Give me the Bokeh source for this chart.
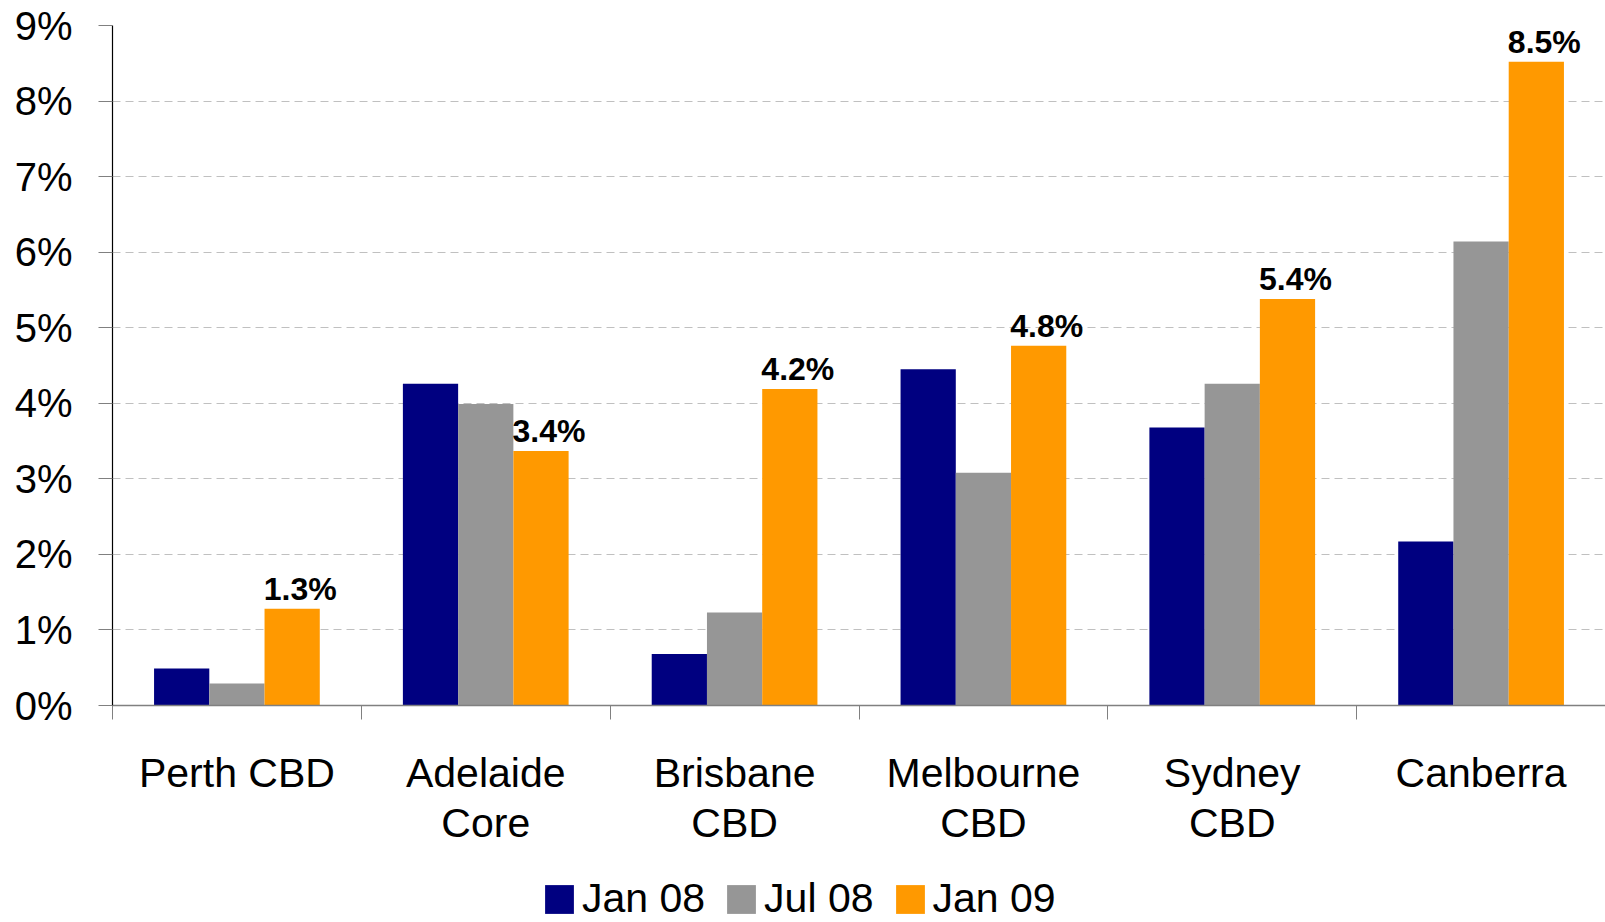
import numpy as np
from bokeh.plotting import figure
from bokeh.layouts import column
from bokeh.models import (Range1d, FixedTicker, PrintfTickFormatter, Legend,
                          LegendItem, ColumnDataSource)
from bokeh.core.properties import value
from bokeh.embed import file_html
from bokeh.resources import INLINE

# ---- data ----
cities = ["Perth CBD", "Adelaide\nCore", "Brisbane\nCBD", "Melbourne\nCBD", "Sydney\nCBD", "Canberra"]
series_names = ["Jan 08", "Jul 08", "Jan 09"]
jan08 = [0.49, 4.26, 0.68, 4.45, 3.68, 2.17]
jul08 = [0.29, 3.99, 1.23, 3.08, 4.26, 6.14]
jan09 = [1.28, 3.37, 4.19, 4.76, 5.38, 8.52]
y_ticks = [0, 1, 2, 3, 4, 5, 6, 7, 8, 9]
colors = ["#000080", "#969696", "#FF9900"]

FONT = "Liberation Sans"
n = len(cities)
centers = np.arange(n) + 0.5
bar_w = 0.222
offsets = [-bar_w, 0.0, bar_w]

p = figure(width=1605, height=859, output_backend="svg", toolbar_location=None,
           x_range=Range1d(0, n), y_range=Range1d(0, 9),
           min_border_left=112, min_border_right=0, min_border_top=25,
           min_border_bottom=154)
p.outline_line_color = None
p.background_fill_color = "white"
p.border_fill_color = "white"

sources = []
renderers = []
for vals, col, off in zip([jan08, jul08, jan09], colors, offsets):
    src = ColumnDataSource(dict(x=centers + off, top=vals))
    sources.append(src)
    r = p.vbar(x="x", top="top", bottom=0, width=bar_w, source=src,
               fill_color=col, line_color=None)
    renderers.append(r)

# data labels on Jan 09
lab_src = ColumnDataSource(dict(x=centers + offsets[2], y=jan09,
                                t=[f"{v:.1f}%" for v in jan09]))
p.text(x="x", y="y", text="t", source=lab_src, text_font=value(FONT),
       text_font_style="bold", text_font_size="32px", text_align="center",
       text_baseline="alphabetic", x_offset=8, y_offset=-20, text_color="black")

# x axis
xa = p.xaxis[0]
xa.ticker = FixedTicker(ticks=[float(c) for c in centers],
                        minor_ticks=[float(i) for i in range(n + 1)])
xa.major_label_overrides = {float(c): name for c, name in zip(centers, cities)}
xa.major_tick_out = 0
xa.major_tick_in = 0
xa.minor_tick_out = 14
xa.minor_tick_in = 0
xa.minor_tick_line_color = "#808080"
xa.axis_line_color = "#808080"
xa.axis_line_width = 1.5
xa.major_label_text_font = FONT
xa.major_label_text_font_size = "41px"
xa.major_label_text_color = "black"
xa.major_label_text_line_height = 1.1
xa.major_label_standoff = 30

# y axis
ya = p.yaxis[0]
ya.ticker = FixedTicker(ticks=y_ticks)
ya.formatter = PrintfTickFormatter(format="%d%%")
ya.major_tick_out = 14
ya.major_tick_in = 0
ya.minor_tick_out = 0
ya.minor_tick_in = 0
ya.major_tick_line_color = "#808080"
ya.axis_line_color = "black"
ya.axis_line_width = 1.2
ya.major_label_text_font = FONT
ya.major_label_text_font_size = "40px"
ya.major_label_text_color = "black"
ya.major_label_standoff = 26

# grid
p.xgrid.visible = False
p.ygrid.ticker = FixedTicker(ticks=y_ticks)
p.ygrid.grid_line_color = "#c0c0c0"
p.ygrid.grid_line_dash = "8 5"
p.ygrid.grid_line_width = 1

# ---- legend strip (same series, bars kept far outside its view) ----
lf = figure(width=1605, height=63, output_backend="svg", toolbar_location=None,
            x_range=Range1d(-100, -99), y_range=Range1d(-100, -99),
            x_axis_location=None, y_axis_location=None, min_border=0)
lf.outline_line_color = None
lf.grid.visible = False
leg_renderers = []
for src, col in zip(sources, colors):
    leg_renderers.append(lf.vbar(x="x", top="top", bottom=0, width=bar_w, source=src,
                                 fill_color=col, line_color=None))

legend = Legend(items=[LegendItem(label=nm, renderers=[r]) for nm, r in zip(series_names, leg_renderers)],
                orientation="horizontal", location=(429, 0),
                border_line_color=None, background_fill_alpha=0,
                glyph_width=36, glyph_height=36, label_text_font=FONT,
                label_text_font_size="41px", label_text_color="black",
                label_standoff=5, spacing=18, padding=0, margin=0)
lf.add_layout(legend, "center")

layout = column(p, lf, spacing=0)
open("out.html", "w").write(file_html(layout, INLINE))
